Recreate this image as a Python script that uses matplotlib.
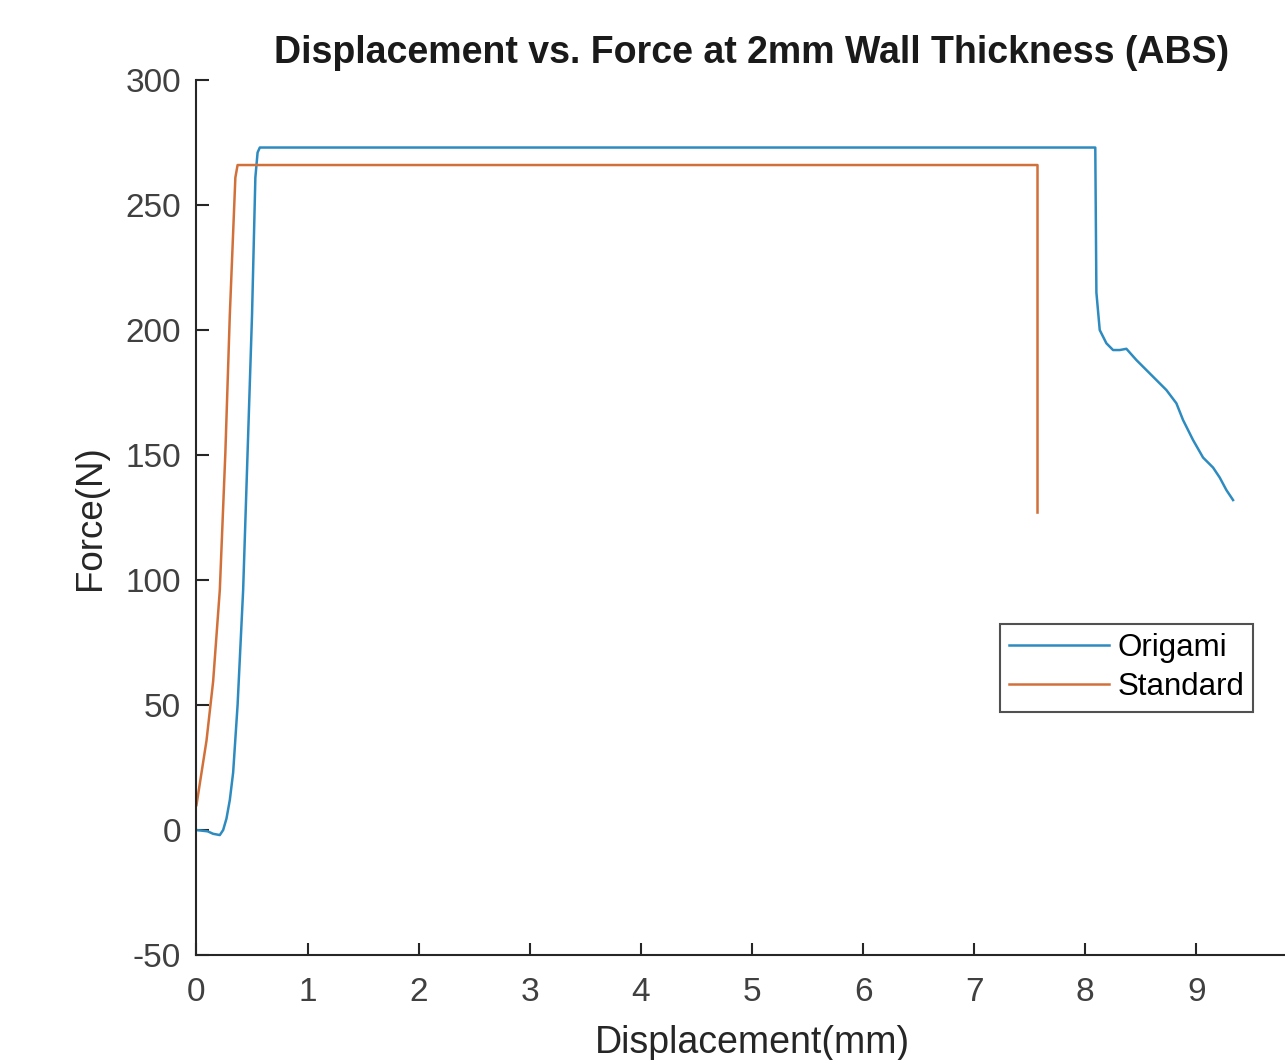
import numpy as np
import matplotlib
matplotlib.use('Agg')
import matplotlib.pyplot as plt

# Origami test
origami_disp = [0.0, 0.10, 0.15, 0.21, 0.24, 0.27, 0.30, 0.33, 0.37, 0.42, 0.46, 0.50, 0.53, 0.55, 0.57,
                8.09, 8.10, 8.13, 8.19, 8.25, 8.31, 8.37, 8.46, 8.55, 8.64, 8.73,
                8.82, 8.88, 8.97, 9.06, 9.15, 9.21, 9.27, 9.33]
origami_force = [0.0, -0.5, -1.5, -2.0, 0.0, 4.6, 12.0, 23.0, 50.0, 96.0, 151.0, 206.0, 261.0, 271.0, 273.0,
                 273.0, 215.0, 200.0, 194.7, 192.0, 192.0, 192.5, 188.0, 184.0, 180.0, 176.0,
                 170.7, 164.0, 156.0, 149.0, 145.0, 141.0, 136.0, 132.0]

# Standard test
standard_disp = [0.0, 0.09, 0.15, 0.21, 0.26, 0.30, 0.35, 0.37, 7.57, 7.57]
standard_force = [10.0, 35.7, 59.5, 96.0, 151.0, 206.0, 261.0, 266.0, 266.0, 127.0]

series_names = ['Origami', 'Standard']

plt.rcParams['font.family'] = ['Liberation Sans', 'DejaVu Sans']
plt.rcParams['axes.unicode_minus'] = False

fig = plt.figure(figsize=(12.85, 10.6), dpi=100)
ax = fig.add_axes([0.1529, 0.099, 0.8646, 0.8255])

ax.plot(origami_disp, origami_force, color='#2e8bc0', lw=1.8, label=series_names[0])
ax.plot(standard_disp, standard_force, color='#d2703a', lw=1.8, label=series_names[1])

ax.set_xlim(0, 10)
ax.set_ylim(-50, 300)
ax.set_xticks(range(0, 11))
ax.set_yticks(range(-50, 301, 50))

for s in ['top', 'right']:
    ax.spines[s].set_visible(False)
for s in ['left', 'bottom']:
    ax.spines[s].set_linewidth(1.5)
    ax.spines[s].set_color('#262626')

ax.tick_params(direction='in', length=9, width=1.5, labelsize=24, colors='#262626',
               labelcolor='#404040')
ax.tick_params(axis='x', pad=16)
ax.tick_params(axis='y', pad=11)

ax.set_xlabel('Displacement(mm)', fontsize=27, color='#262626', labelpad=12)
ax.set_ylabel('Force(N)', fontsize=26.5, color='#262626', labelpad=13)
ax.set_title('Displacement vs. Force at 2mm Wall Thickness (ABS)', fontsize=27,
             fontweight='bold', color='#1a1a1a', pad=12, x=0.5)

leg = ax.legend(loc='upper left', bbox_to_anchor=(1000 / 1285, 1 - 624 / 1060),
                bbox_transform=fig.transFigure, fontsize=22.5, frameon=True,
                fancybox=False, handlelength=3.2, handletextpad=0.25,
                borderpad=0.3, labelspacing=0.28, borderaxespad=0)
leg.get_frame().set_edgecolor('#262626')
leg.get_frame().set_linewidth(1.5)

fig.savefig('out.png', dpi=100)
